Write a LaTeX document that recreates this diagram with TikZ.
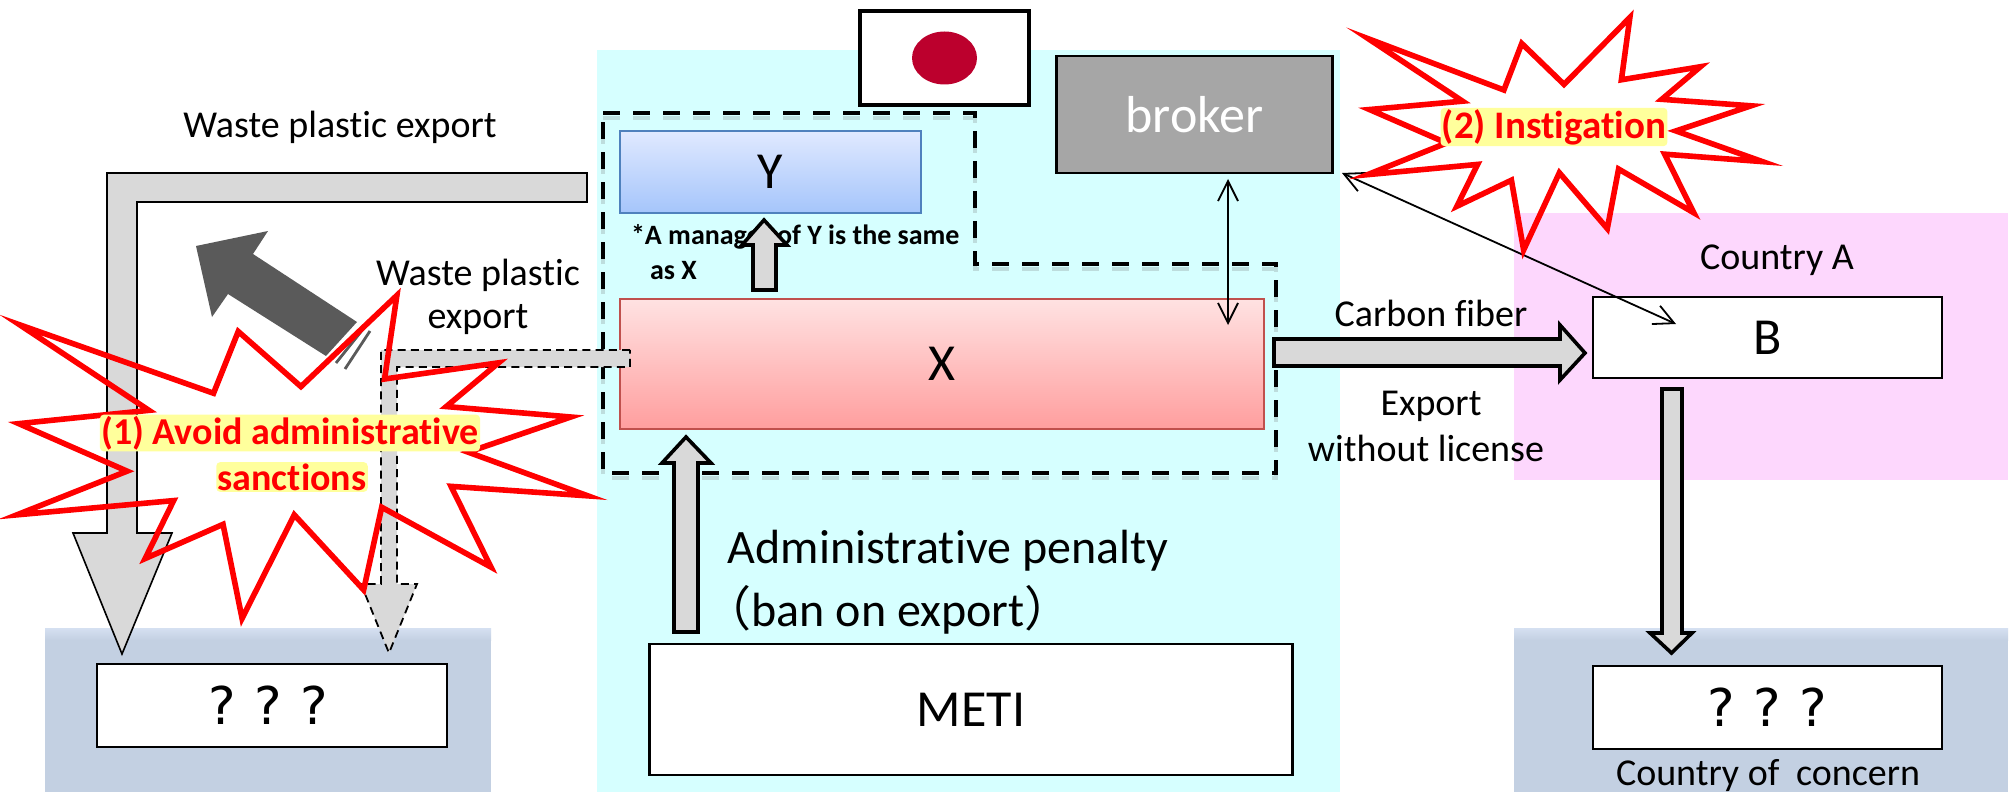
\documentclass[tikz,border=0pt]{standalone}
\usepackage{fontspec}
\setmainfont[Ligatures=NoCommon]{Carlito}
\newfontfamily\cjkfont{Noto Sans CJK JP}
\newfontfamily\qfont{DejaVu Sans}
\usetikzlibrary{arrows.meta}
\newcommand{\fsz}[1]{\fontsize{#1}{#1}\selectfont}
\definecolor{cyanbg}{HTML}{D6FFFF}
\definecolor{pinkbg}{HTML}{FDD7FD}
\definecolor{bluebg}{HTML}{C3D0E2}
\definecolor{bluetop}{HTML}{D5E0F1}
\definecolor{arrowgrey}{HTML}{D9D9D9}
\definecolor{darkarrow}{HTML}{5A5A5A}
\definecolor{flagred}{HTML}{BC002D}
\definecolor{brokergrey}{HTML}{A6A6A6}
\definecolor{glowyellow}{HTML}{FFFF9C}
\tikzset{
  whitebox/.style={draw=black,fill=white,line width=1.2pt,inner sep=0pt,outer sep=0pt,align=center},
  blockthin/.style={draw=black,fill=arrowgrey,line width=.8pt,line join=miter},
  blockthick/.style={draw=black,fill=arrowgrey,line width=1.8pt,line join=miter},
  blockdash/.style={draw=black,fill=arrowgrey,line width=.9pt,dash pattern=on 4pt off 2.6pt},
  burst/.style={draw=red,line width=2.8pt,line join=miter,miter limit=12},
  thinarrow/.style={line width=.9pt,{Straight Barb[length=10pt,width=10pt]}-{Straight Barb[length=10pt,width=10pt]}},
  label/.style={inner sep=0pt,outer sep=0pt,align=center,text=black},
  alert/.style={inner sep=.7pt,outer sep=0pt,text=red,fill=glowyellow,rounded corners=2pt,font=\bfseries\fsz{19}},
  zone/.style={dash pattern=on 8.5pt off 6.5pt,line width=2pt,line join=miter},
}
\begin{document}
\begin{tikzpicture}[x=.5pt,y=-.5pt]
\useasboundingbox (0,0) rectangle (2015,792);
\fill[white] (0,0) rectangle (2015,792);
% panels
\fill[cyanbg] (597,50) rectangle (1340,792);
\fill[pinkbg] (1514,213) rectangle (2008,480);
\fill[bluebg] (45,628) rectangle (491,792);
\shade[top color=bluetop,bottom color=bluebg] (45,628) rectangle (491,640);
\fill[bluebg] (1514,628) rectangle (2008,792);
\shade[top color=bluetop,bottom color=bluebg] (1514,628) rectangle (2008,640);
% flag
\node[whitebox,line width=2pt,minimum width=84.5pt,minimum height=47pt] (flag) at (944.5,58) {};
\fill[flagred] (flag.center) ellipse [x radius=32.5,y radius=26.5];
% boxes
\node[whitebox,fill=brokergrey,minimum width=138pt,minimum height=58.5pt,text=white,font=\fsz{26}] (broker) at (1194.5,114.5) {broker};
\node[whitebox,draw={rgb,255:red,79;green,129;blue,189},top color={rgb,255:red,224;green,233;blue,255},bottom color={rgb,255:red,165;green,197;blue,251},line width=.8pt,minimum width=150.5pt,minimum height=41pt,font=\fsz{26}] (Y) at (770.5,172) {Y};
\node[whitebox,draw={rgb,255:red,192;green,80;blue,77},top color={rgb,255:red,255;green,226;blue,226},bottom color={rgb,255:red,255;green,158;blue,158},line width=.8pt,minimum width=322pt,minimum height=65pt,font=\fsz{26}] (X) at (942,364) {X};
\node[whitebox,minimum width=174.5pt,minimum height=40.5pt,font=\fsz{26}] (B) at (1767.5,337.5) {B};
\node[whitebox,minimum width=321.5pt,minimum height=65.5pt,font=\fsz{26}] (METI) at (971,709.5) {METI};
\node[whitebox,minimum width=175pt,minimum height=41.5pt,font=\qfont\fsz{26}] (Q1) at (272,705.5) {\hspace{-4pt}?\hspace{9.3pt}?\hspace{9.3pt}?};
\node[whitebox,minimum width=174.5pt,minimum height=41.5pt,font=\qfont\fsz{26}] (Q2) at (1767.5,707.5) {?\hspace{9.3pt}?\hspace{9.3pt}?};
% note under Y
\node[label,font=\bfseries\fsz{14},anchor=west] (note1) at (631,237) {*A manager of Y is the same};
\node[label,font=\bfseries\fsz{14},anchor=west] (note2) at (650,271) {as X};
% dashed zone
\draw[zone,black!60,opacity=.22,yshift=-2.5pt] (603,113) -- (975,113) -- (975,264) -- (1276,264) -- (1276,473) -- (603,473) -- cycle;
\draw[zone] (603,113) -- (975,113) -- (975,264) -- (1276,264) -- (1276,473) -- (603,473) -- cycle;
% block arrows
\draw[blockthin] (587,173) -- (107,173) -- (107,533) -- (73,533) -- (122,654) -- (172,533) -- (137,533) -- (137,202) -- (587,202) -- cycle;
\fill[darkarrow] (196,246) -- (268,231) -- (253,254) -- (357,322) -- (326,356) -- (228,294) -- (212,317) -- cycle;
\draw[darkarrow,line width=1.4pt] (364,328) -- (336,363);
\draw[darkarrow,line width=1.4pt] (370,331) -- (345,369);
\draw[blockdash] (630,350) -- (381,350) -- (381,584) -- (361,584) -- (389,653) -- (417,584) -- (397,584) -- (397,367) -- (630,367) -- cycle;
\draw[blockthick] (753,290) -- (753,245) -- (742,245) -- (764,220) -- (787,245) -- (776,245) -- (776,290) -- cycle;
\draw[blockthick] (674,632) -- (674,463) -- (662,463) -- (686,437) -- (711,463) -- (698,463) -- (698,632) -- cycle;
\draw[blockthick] (1274,339) -- (1560,339) -- (1560,325) -- (1585,353) -- (1560,380) -- (1560,366) -- (1274,366) -- cycle;
\draw[blockthick] (1662,389) -- (1682,389) -- (1682,633) -- (1692,633) -- (1671.5,653) -- (1650,633) -- (1662,633) -- cycle;
% thin connectors
\coordinate (brokerlow) at (1228,179);
\coordinate (xhigh) at (1228,325);
\coordinate (brokercorner) at (1342,173);
\coordinate (binner) at (1676,324);
\draw[thinarrow] (brokerlow) -- (xhigh);
\draw[thinarrow] (brokercorner) -- (binner);
% bursts
\begin{scope}[shift={(300,455)},xscale=.95,yscale=.95,shift={(-300,-455)}]
\draw[burst] (5,318) -- (209,390) -- (235,325) -- (301,383) -- (402,287) -- (389,375) -- (509,358) -- (454,404) -- (585,415) -- (477,452) -- (603,498) -- (459,488) -- (501,573) -- (386,510) -- (367,597) -- (294,518) -- (239,627) -- (219,528) -- (137,564) -- (167,503) -- (2,518) -- (118,472) -- (4,422) -- (141,408) -- cycle;
\end{scope}
\begin{scope}[shift={(1565,130)},xscale=.94,yscale=.93,shift={(-1565,-130)}]
\draw[burst] (1356,32) -- (1500,87) -- (1519,37) -- (1564,81) -- (1634,9) -- (1625,76) -- (1709,62) -- (1668,97) -- (1763,104) -- (1683,131) -- (1775,164) -- (1671,156) -- (1702,219) -- (1622,172) -- (1610,236) -- (1559,176) -- (1521,259) -- (1508,184) -- (1450,212) -- (1472,167) -- (1355,178) -- (1439,144) -- (1357,108) -- (1456,99) -- cycle;
\end{scope}
\node[alert] (alert1a) at (290,433) {(1) Avoid administrative};
\node[alert] (alert1b) at (292,477) {sanctions};
\node[alert,font=\bfseries\fsz{19.5}] (alert2) at (1554,127) {(2) Instigation};
% labels
\node[label,font=\fsz{19}] (waste1) at (340,127) {Waste plastic export};
\node[label,font=\fsz{19}] (waste2a) at (478,275) {Waste plastic};
\node[label,font=\fsz{19}] (waste2b) at (478,320) {export};
\node[label,font=\fsz{24}] (pen1) at (948,551) {Administrative penalty};
\node[label,font=\fsz{24}] (pen2) at (888,610) {{\cjkfont （}ban on export{\cjkfont ）}};
\node[label,font=\fsz{19}] (carbon) at (1431,313) {Carbon fiber};
\node[label,font=\fsz{19}] (exp1) at (1431,406) {Export};
\node[label,font=\fsz{19}] (exp2) at (1426,448) {without license};
\node[label,font=\fsz{19}] (countryA) at (1777,260) {Country A};
\node[label,font=\fsz{19}] (concern) at (1768,776) {Country of\hspace{4pt} concern};
\end{tikzpicture}
\end{document}
